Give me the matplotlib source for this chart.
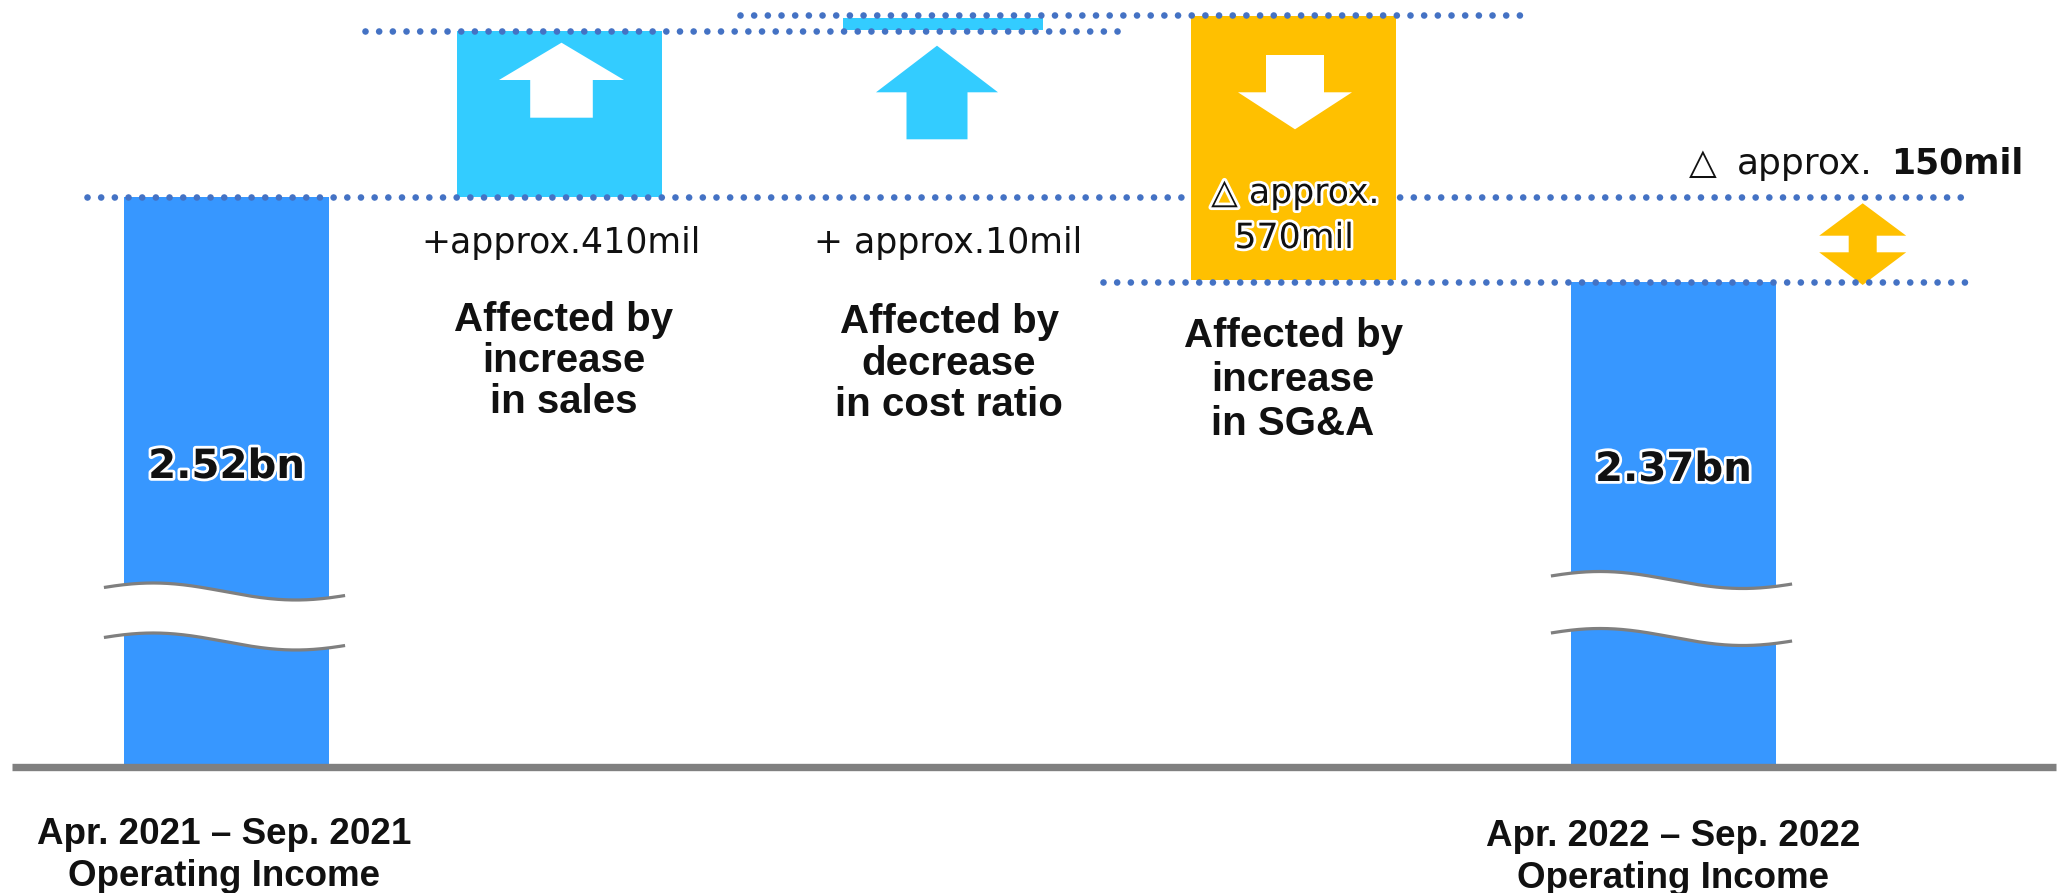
import matplotlib
matplotlib.use("Agg")
import matplotlib.pyplot as plt
import matplotlib.patheffects as pe
import numpy as np

# ---------------- data ----------------
period_labels = ["Apr. 2021 \u2013 Sep. 2021", "Apr. 2022 \u2013 Sep. 2022"]
period_sub = ["Operating Income", "Operating Income"]
factor_labels = [["Affected by", "increase", "in sales"],
                 ["Affected by", "decrease", "in cost ratio"],
                 ["Affected by", "increase", "in SG&A"]]
start_label = "2.52bn"
end_label = "2.37bn"
delta_labels = ["+approx.410mil", "+ approx.10mil", ["\u25b3 approx.", "570mil"]]
diff_label = ["\u25b3", "approx.", "150mil"]
# bar extents on the slide's illustrative (broken, not-to-scale) axis
bar_bottom = [0, 570, 737, 487, 0]
bar_top = [570, 736, 749, 751, 485]

# ---------------- layout ----------------
W, H = 2069, 893
BASE = 767                      # pixel row of the baseline


def Y(p):
    return BASE - p


xs = [226.5, 559.5, 943, 1293.5, 1673.5]
widths = [205, 205, 200, 205, 205]
colors = ["#3797FF", "#33CCFF", "#33CCFF", "#FFC000", "#3797FF"]
DOT = "#4472C4"
GRAY = "#808080"
VFONT = "DejaVu Sans"
CFONT = "Liberation Sans"

fig = plt.figure(figsize=(W / 100, H / 100), dpi=100)
ax = fig.add_axes([0, 0, 1, 1])
ax.set_xlim(0, W)
ax.set_ylim(BASE - H, BASE)
ax.axis("off")

# bars
for i in range(5):
    z = 5 if i == 3 else 2
    ax.bar(xs[i], bar_top[i] - bar_bottom[i], bottom=bar_bottom[i],
           width=widths[i], color=colors[i], zorder=z, linewidth=0)

# baseline
ax.plot([12, 2056], [0, 0], color=GRAY, lw=5.3, solid_capstyle="butt", zorder=8)

# dotted level lines
dot_style = dict(color=DOT, lw=4.8, linestyle=(0, (0.001, 2.05)),
                 dash_capstyle="round")
ax.plot([87, 1971], [bar_top[0], bar_top[0]], zorder=3, **dot_style)
ax.plot([365, 1123], [bar_top[1], bar_top[1]], zorder=7, **dot_style)
ax.plot([740, 1524], [bar_top[3] + 1, bar_top[3] + 1], zorder=7, **dot_style)
ax.plot([1103, 1969], [bar_top[4], bar_top[4]], zorder=7, **dot_style)


# wavy break marks
def wave_break(cx, c_up, c_lo):
    t = np.linspace(0, 1, 200)
    x = cx - 121 + 238 * t
    a = 8.5
    w = -a * np.cos(2 * np.pi * (t - 0.2) / 1.2)
    y_up = Y(c_up + w)
    y_lo = Y(c_lo + w)
    ax.fill(np.concatenate([x, x[::-1]]), np.concatenate([y_up, y_lo[::-1]]),
            color="white", zorder=6, lw=0)
    ax.plot(x, y_up, color="#7F7F7F", lw=2.3, zorder=6.5)
    ax.plot(x, y_lo, color="#7F7F7F", lw=2.3, zorder=6.5)


wave_break(xs[0], 591.5, 641.5)
wave_break(xs[4], 580, 637)


# arrows
def up_arrow(cx, tip, hb, end, hw, sw, color, z):
    px = [cx, cx + hw, cx + sw, cx + sw, cx - sw, cx - sw, cx - hw]
    py = [tip, hb, hb, end, end, hb, hb]
    ax.fill(px, [Y(v) for v in py], color=color, lw=0, zorder=z)


up_arrow(xs[1] + 2, 42.7, 80, 117.7, 62.5, 31.3, "white", 6)
up_arrow(937, 45.7, 92.3, 139.3, 61, 30.5, "#33CCFF", 6)
up_arrow(1295, 129.3, 92.3, 55, 57, 29, "white", 6)   # pointing down

# double arrow (difference)
cx = 1862.7
px = [cx, cx + 43.5, cx + 14, cx + 14, cx + 43.5, cx, cx - 43.5, cx - 14, cx - 14, cx - 43.5]
py = [203.3, 235.7, 235.7, 252.3, 252.3, 285, 252.3, 252.3, 235.7, 235.7]
ax.fill(px, [Y(v) for v in py], color="#FFC000", lw=0, zorder=6)

# ---------------- texts ----------------
halo = [pe.withStroke(linewidth=4, foreground="white")]

ax.text(xs[0], Y(478), start_label, ha="center", va="baseline", fontsize=29,
        fontweight="bold", family=VFONT, color="#111111", path_effects=halo, zorder=9)
ax.text(xs[4], Y(481), end_label, ha="center", va="baseline", fontsize=29,
        fontweight="bold", family=VFONT, color="#111111", path_effects=halo, zorder=9)

ax.text(561.5, Y(253), delta_labels[0], ha="center", va="baseline", fontsize=25,
        family=VFONT, color="#111111", zorder=9)
ax.text(948.5, Y(253), delta_labels[1], ha="center", va="baseline", fontsize=25,
        family=VFONT, color="#111111", zorder=9)
ax.text(1295.5, Y(203), delta_labels[2][0], ha="center", va="baseline", fontsize=25,
        family=VFONT, color="#111111", path_effects=halo, zorder=9)
ax.text(1294, Y(248), delta_labels[2][1], ha="center", va="baseline", fontsize=25,
        family=VFONT, color="#111111", path_effects=halo, zorder=9)

ax.text(1689, Y(174), diff_label[0], ha="left", va="baseline", fontsize=26,
        family=VFONT, color="#111111", zorder=9)
ax.text(1737, Y(174), diff_label[1], ha="left", va="baseline", fontsize=26,
        family=VFONT, color="#111111", zorder=9)
ax.text(1891, Y(174), diff_label[2], ha="left", va="baseline", fontsize=25,
        fontweight="bold", family=VFONT, color="#111111", zorder=9)

factor_x = [563.5, 949, 1293]
factor_base = [[331, 372, 413], [333, 375, 416], [347, 391, 435]]
for k in range(3):
    for j, line in enumerate(factor_labels[k]):
        ax.text(factor_x[k], Y(factor_base[k][j]), line, ha="center", va="baseline",
                fontsize=29, fontweight="bold", family=CFONT, color="#111111", zorder=9)

period_x = [224, 1673]
period_base = [[844, 886], [846, 888]]
for k in range(2):
    ax.text(period_x[k], Y(period_base[k][0]), period_labels[k], ha="center",
            va="baseline", fontsize=26.5, fontweight="bold", family=CFONT,
            color="#111111", zorder=9)
    ax.text(period_x[k], Y(period_base[k][1]), period_sub[k], ha="center",
            va="baseline", fontsize=26.5, fontweight="bold", family=CFONT,
            color="#111111", zorder=9)

fig.savefig("out.png", dpi=100, facecolor="white")
